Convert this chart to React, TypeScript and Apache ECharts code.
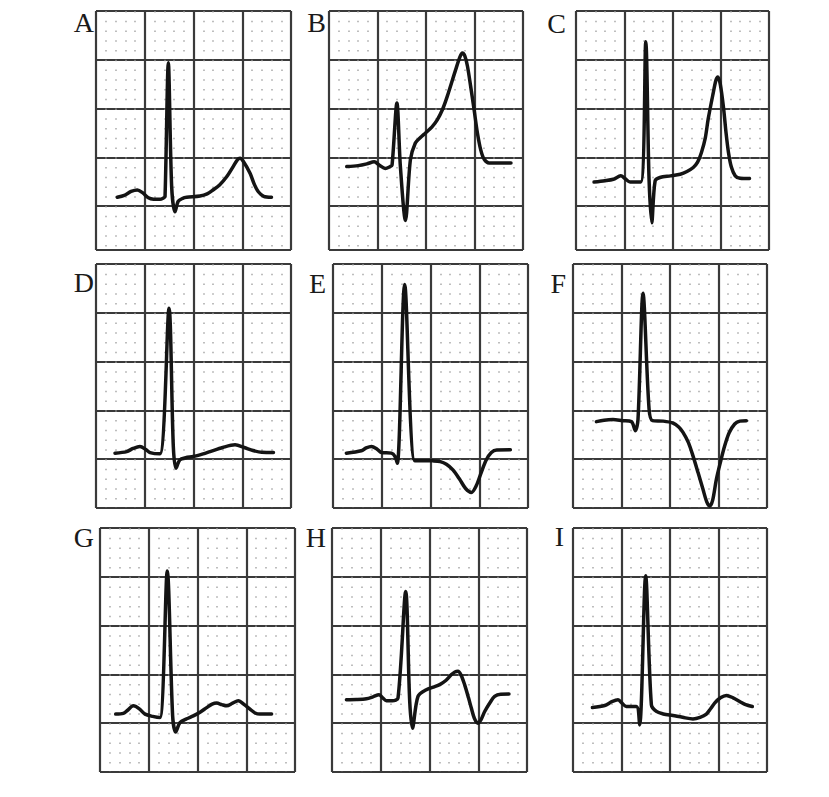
import React, { useEffect, useRef } from 'react';
import * as echarts from 'echarts';

// Panel captions
const panelLabels = ['A', 'B', 'C', 'D', 'E', 'F', 'G', 'H', 'I'];

// ECG traces: [time (mm of paper), amplitude (mm of paper)]
const ecgA = [[2.19, 0.9], [2.9, 1.1], [3.6, 1.5], [4.24, 1.65], [4.8, 1.35], [5.37, 0.85], [5.9, 0.7], [6.56, 0.69], [6.95, 0.85], [7.08, 0.96], [7.42, 14.7], [7.76, 2.0], [8.1, -0.59], [8.44, 0.5], [8.9, 0.8], [9.3, 0.9], [10.67, 1.03], [11.4, 1.25], [12.0, 1.65], [12.7, 2.2], [13.4, 3.0], [14.1, 4.1], [14.5, 4.75], [14.77, 4.9], [15.1, 4.6], [15.8, 3.37], [16.25, 2.2], [16.65, 1.47], [17.2, 1.0], [18.0, 0.9]];
const ecgB = [[1.83, 4.05], [3.0, 4.15], [3.9, 4.33], [4.66, 4.54], [5.2, 4.2], [5.8, 3.86], [6.3, 4.05], [6.5, 4.2], [7.0, 10.56], [7.36, 4.05], [7.88, -1.47], [8.39, 4.74], [8.9, 6.46], [9.4, 7.0], [9.95, 7.5], [10.6, 8.1], [11.16, 8.84], [11.7, 9.9], [12.2, 11.27], [13.06, 13.99], [13.5, 15.3], [13.75, 15.7], [14.0, 15.4], [14.27, 14.36], [14.6, 12.3], [14.96, 9.87], [15.3, 7.5], [15.65, 5.74], [16.0, 4.8], [16.5, 4.43], [18.76, 4.43]];
const ecgC = [[1.87, 2.47], [3.0, 2.6], [3.87, 2.75], [4.64, 3.1], [5.1, 2.8], [5.6, 2.47], [6.71, 2.47], [7.23, 16.85], [7.57, 2.75], [7.85, -1.71], [8.2, 2.58], [8.7, 2.93], [9.8, 3.1], [10.8, 3.27], [11.5, 3.55], [12.15, 3.96], [12.6, 4.5], [13.0, 5.5], [13.4, 7.0], [13.7, 8.94], [14.2, 11.5], [14.5, 12.9], [14.7, 13.24], [14.95, 12.5], [15.3, 9.97], [15.55, 7.5], [15.8, 5.5], [16.1, 4.0], [16.5, 3.1], [17.0, 2.85], [17.98, 2.82]];
const ecgD = [[1.95, 0.62], [3.15, 0.78], [3.8, 1.1], [4.51, 1.3], [5.1, 1.0], [5.54, 0.68], [6.56, 0.55], [7.49, 15.46], [7.93, 1.3], [8.2, -0.93], [8.6, -0.07], [9.2, 0.15], [9.98, 0.27], [11.0, 0.55], [11.7, 0.78], [13.0, 1.2], [14.26, 1.47], [15.2, 1.2], [16.1, 0.89], [17.0, 0.7], [18.2, 0.68]];
const ecgE = [[1.37, 0.62], [2.9, 0.86], [3.4, 1.15], [3.94, 1.31], [4.5, 1.05], [4.96, 0.69], [5.99, 0.62], [6.35, 0.3], [6.6, -0.41], [7.35, 17.9], [8.38, -0.17], [9.3, -0.15], [10.26, -0.17], [11.0, -0.25], [11.63, -0.52], [12.3, -1.1], [12.99, -2.06], [13.6, -3.0], [14.19, -3.4], [14.7, -2.7], [15.2, -1.37], [15.7, -0.1], [16.24, 0.69], [16.8, 0.95], [18.19, 0.96]];
const ecgF = [[2.41, 3.85], [3.2, 4.0], [4.12, 4.06], [5.1, 3.95], [6.02, 3.85], [6.43, 2.92], [6.7, 4.05], [7.22, 17.0], [7.84, 5.15], [8.19, 3.95], [9.3, 3.9], [10.3, 3.71], [10.9, 3.3], [11.34, 2.75], [11.9, 1.7], [12.37, 0.34], [12.9, -1.4], [13.4, -3.09], [13.8, -4.4], [14.09, -4.81], [14.4, -4.2], [14.78, -2.06], [15.2, -0.3], [15.64, 1.37], [16.1, 2.7], [16.67, 3.61], [17.2, 3.9], [17.87, 3.95]];
const ecgG = [[1.61, 0.93], [2.4, 1.0], [2.8, 1.3], [3.42, 1.78], [4.0, 1.5], [4.62, 0.93], [5.4, 0.7], [6.15, 0.58], [6.9, 15.6], [7.45, 0.75], [7.76, -0.9], [8.2, 0.06], [8.9, 0.45], [9.57, 0.75], [10.3, 1.15], [10.94, 1.6], [11.5, 1.95], [11.97, 2.06], [12.5, 1.9], [12.99, 1.78], [13.6, 2.05], [14.18, 2.3], [14.8, 1.9], [15.38, 1.44], [15.9, 1.05], [16.4, 0.93], [17.6, 0.93]];
const ecgH = [[1.48, 2.4], [2.5, 2.42], [3.53, 2.5], [4.2, 2.7], [4.82, 2.92], [5.2, 2.6], [5.58, 2.3], [6.2, 2.3], [6.77, 2.58], [7.56, 13.5], [7.97, 2.23], [8.25, -0.52], [8.82, 2.74], [9.68, 3.43], [10.4, 3.7], [11.05, 3.95], [11.7, 4.4], [12.25, 4.98], [12.6, 5.25], [12.92, 5.32], [13.25, 4.9], [13.6, 3.95], [14.0, 2.6], [14.29, 1.55], [14.6, 0.5], [14.97, 0.0], [15.3, 0.4], [15.66, 1.2], [16.2, 2.1], [16.68, 2.74], [17.3, 2.97], [18.15, 2.99]];
const ecgI = [[2.0, 1.61], [3.27, 1.81], [4.0, 2.2], [4.64, 2.4], [5.1, 2.0], [5.5, 1.71], [6.53, 1.71], [6.87, -0.18], [7.49, 15.1], [8.08, 1.89], [8.6, 1.2], [9.3, 0.95], [10.31, 0.78], [11.3, 0.6], [12.37, 0.44], [13.1, 0.6], [13.75, 0.93], [14.2, 1.5], [14.6, 2.06], [15.2, 2.6], [15.81, 2.85], [16.5, 2.6], [17.18, 2.23], [17.8, 1.9], [18.49, 1.71]];

const traces = [ecgA, ecgB, ecgC, ecgD, ecgE, ecgF, ecgG, ecgH, ecgI];

// Paper extent of each panel (mm)
const xRange = [0, 20];
const yMaxPaper = 20;
const yMinPaper = [-4.5, -4.5, -4.5, -5, -5, -5, -5, -5, -5];

// Layout (pixels)
const panelBoxes = [
  { left: 96, top: 11, width: 195, height: 239 },
  { left: 329, top: 11, width: 194, height: 239 },
  { left: 576, top: 11, width: 193, height: 239 },
  { left: 96, top: 264, width: 195, height: 244 },
  { left: 333, top: 264, width: 195, height: 244 },
  { left: 573, top: 264, width: 194, height: 244 },
  { left: 100, top: 528, width: 195, height: 244 },
  { left: 332, top: 528, width: 195, height: 244 },
  { left: 573, top: 528, width: 194, height: 244 },
];
const labelPos = [
  [94, 22], [326, 22], [566, 23],
  [94, 282], [326, 283], [566, 283],
  [94, 537], [326, 537], [564, 536],
];

const majorLine = { color: '#3a3a3a', width: 2.2 };

export default function App() {
  const ref = useRef<HTMLDivElement>(null);
  useEffect(() => {
    const chart = echarts.init(ref.current!, null, { renderer: 'svg' });
    const option: any = {
      animation: false,
      backgroundColor: '#ffffff',
      grid: panelBoxes.map((b) => ({ ...b, containLabel: false, show: false })),
      xAxis: panelBoxes.map((_, i) => ({
        type: 'value',
        gridIndex: i,
        min: xRange[0],
        max: xRange[1],
        interval: 5,
        axisLine: { show: false },
        axisTick: { show: false },
        axisLabel: { show: false },
        minorTick: { show: false, splitNumber: 5 },
        splitLine: { show: true, lineStyle: majorLine },
        minorSplitLine: {
          show: true,
          lineStyle: { color: '#9a9a9a', width: 1.6, type: [1.6, 8.15], opacity: 0.8 },
        },
      })),
      yAxis: panelBoxes.map((_, i) => ({
        type: 'value',
        gridIndex: i,
        min: yMinPaper[i],
        max: yMaxPaper,
        minInterval: 5,
        maxInterval: 5,
        axisLine: { show: false },
        axisTick: { show: false },
        axisLabel: { show: false },
        splitLine: { show: true, lineStyle: majorLine },
      })),
      series: traces.map((d, i) => ({
        type: 'line',
        xAxisIndex: i,
        yAxisIndex: i,
        data: d,
        showSymbol: false,
        smooth: 0.3,
        lineStyle: { color: '#141414', width: 3.5, cap: 'round', join: 'round' },
        silent: true,
        z: 5,
      })),
      graphic: panelLabels.map((t, i) => ({
        type: 'text',
        x: labelPos[i][0],
        y: labelPos[i][1],
        style: {
          text: t,
          font: '28px "Liberation Serif"',
          fill: '#1a1a1a',
          textAlign: 'right',
          textVerticalAlign: 'middle',
        },
      })),
    };
    chart.setOption(option);
    return () => chart.dispose();
  }, []);
  return (
    <div
      ref={ref}
      style={{ position: 'absolute', left: 0, top: 0, width: 829, height: 797, background: '#fff' }}
    />
  );
}
